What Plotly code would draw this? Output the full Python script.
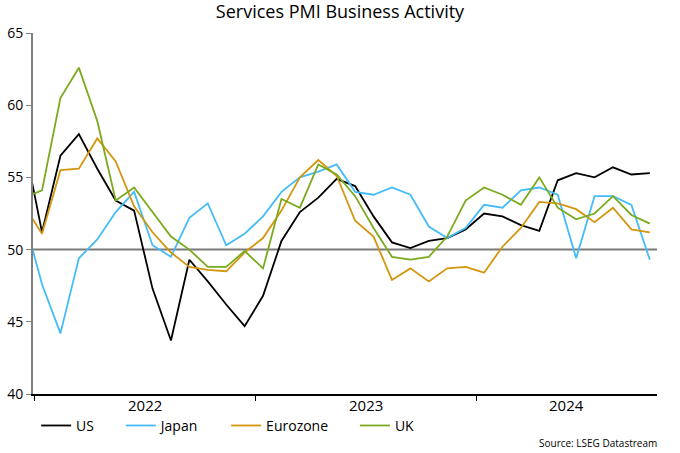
import plotly.graph_objects as go

# Monthly categories: Dec 2021 .. Oct 2024
months = ["2021-12",
          "2022-01", "2022-02", "2022-03", "2022-04", "2022-05", "2022-06",
          "2022-07", "2022-08", "2022-09", "2022-10", "2022-11", "2022-12",
          "2023-01", "2023-02", "2023-03", "2023-04", "2023-05", "2023-06",
          "2023-07", "2023-08", "2023-09", "2023-10", "2023-11", "2023-12",
          "2024-01", "2024-02", "2024-03", "2024-04", "2024-05", "2024-06",
          "2024-07", "2024-08", "2024-09", "2024-10"]

us = [57.6, 51.2, 56.5, 58.0, 55.6, 53.4, 52.7, 47.3, 43.7, 49.3, 47.8, 46.2, 44.7,
      46.8, 50.6, 52.6, 53.6, 54.9, 54.4, 52.3, 50.5, 50.1, 50.6, 50.8, 51.4,
      52.5, 52.3, 51.7, 51.3, 54.8, 55.3, 55.0, 55.7, 55.2, 55.3]
japan = [52.3, 47.6, 44.2, 49.4, 50.7, 52.6, 54.0, 50.3, 49.5, 52.2, 53.2, 50.3, 51.1,
         52.3, 54.0, 55.0, 55.4, 55.9, 54.0, 53.8, 54.3, 53.8, 51.6, 50.8, 51.5,
         53.1, 52.9, 54.1, 54.3, 53.8, 49.4, 53.7, 53.7, 53.1, 49.3]
eurozone = [53.1, 51.1, 55.5, 55.6, 57.7, 56.1, 53.0, 51.2, 49.8, 48.8, 48.6, 48.5, 49.8,
            50.8, 52.7, 55.0, 56.2, 55.1, 52.0, 50.9, 47.9, 48.7, 47.8, 48.7, 48.8,
            48.4, 50.2, 51.5, 53.3, 53.2, 52.8, 51.9, 52.9, 51.4, 51.2]
uk = [53.6, 54.1, 60.5, 62.6, 58.9, 53.4, 54.3, 52.6, 50.9, 50.0, 48.8, 48.8, 49.9,
      48.7, 53.5, 52.9, 55.9, 55.2, 53.7, 51.5, 49.5, 49.3, 49.5, 50.9, 53.4,
      54.3, 53.8, 53.1, 55.0, 52.9, 52.1, 52.5, 53.7, 52.4, 51.8]

year_labels = ["2022", "2023", "2024"]
y_ticks = [40, 45, 50, 55, 60, 65]

series_names = ["US", "Japan", "Eurozone", "UK"]
series_values = [us, japan, eurozone, uk]
colors = ["#000000", "#45BCF8", "#D4960E", "#7BAA1E"]

# x position: month index with Jan 2022 = 0
x = [i - 1 for i in range(len(months))]
x_range = [-0.49, 33.39]
year_bounds = [-0.4, 11.6, 23.6]
label_pos = [(year_bounds[k] + (year_bounds[k + 1] if k + 1 < len(year_bounds) else x_range[1])) / 2
             for k in range(len(year_bounds))]

FONT = "Open Sans"
fig = go.Figure()
for name, vals, c in zip(series_names, series_values, colors):
    fig.add_trace(go.Scatter(x=x, y=vals, mode="lines", name=name + "\u00a0" * 6,
                             line=dict(color=c, width=1.8)))

fig.add_shape(type="line", xref="paper", x0=0, x1=1, yref="y", y0=50, y1=50,
              line=dict(color="#7a7a7a", width=2), layer="below")

for lab, pos in zip(year_labels, label_pos):
    fig.add_annotation(x=pos, y=0, xref="x", yref="paper", yshift=1, text=lab,
                       showarrow=False, yanchor="top",
                       font=dict(family=FONT, size=15, color="#000"))

fig.add_annotation(x=1.003, xref="paper", y=-0.112, yref="paper", text="Source: LSEG Datastream",
                   showarrow=False, xanchor="right", yanchor="top",
                   font=dict(family=FONT, size=10, color="#000"))

fig.update_layout(
    width=680, height=453,
    margin=dict(l=33, r=23, t=33, b=59, autoexpand=False),
    paper_bgcolor="white", plot_bgcolor="white",
    title=dict(text="Services PMI Business Activity", x=0.5, xanchor="center",
               y=0.975, yanchor="middle", font=dict(family=FONT, size=18, color="#000")),
    font=dict(family=FONT, size=14, color="#000"),
    showlegend=True,
    legend=dict(orientation="h", x=0.005, xanchor="left", y=-0.044, yanchor="top",
                font=dict(family=FONT, size=14, color="#000"), bgcolor="rgba(0,0,0,0)"),
    xaxis=dict(range=x_range, showgrid=False, zeroline=False, showline=True,
               linecolor="#000", linewidth=1.5, ticks="outside", ticklen=5,
               tickcolor="#000", tickwidth=1, tickvals=year_bounds,
               ticktext=["" for _ in year_bounds], automargin=False),
    yaxis=dict(range=[40, 65], tickvals=y_ticks, showgrid=False, zeroline=False,
               showline=True, linecolor="#808080", linewidth=2, ticks="outside",
               ticklen=5, tickcolor="#808080", tickwidth=1, automargin=False,
               tickfont=dict(family=FONT, size=14, color="#000")),
)

fig.write_html("out.html", config={"displayModeBar": False},
               post_script="document.body.style.margin='0';")
